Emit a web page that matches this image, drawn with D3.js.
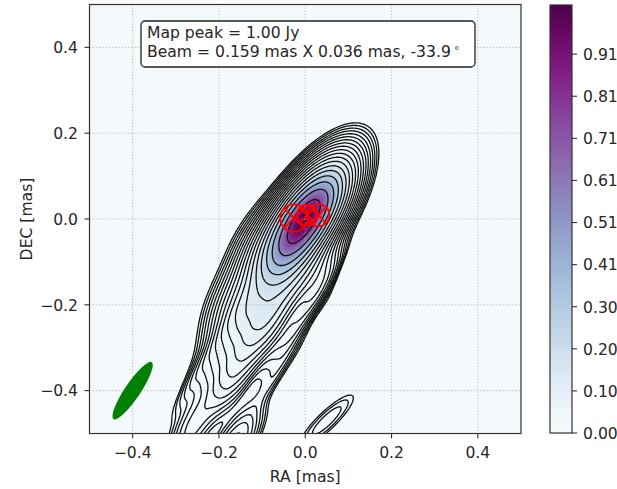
<!DOCTYPE html>
<html>
<head>
<meta charset="utf-8">
<script src="https://cdn.jsdelivr.net/npm/d3@7"></script>
<style>
  body { margin: 0; background: #fff; }
  svg { display: block; }
  text { font-family: "DejaVu Sans", sans-serif; fill: #262626; }
</style>
</head>
<body>
<svg id="chart" width="617" height="489"></svg>
<script>
// axis ticks (mas)
const axisTicks = [-0.4, -0.2, 0.0, 0.2, 0.4];

// colorbar ticks and labels (Jy)
const cbTicks = [0, 0.1015, 0.203, 0.3045, 0.406, 0.5075, 0.609, 0.7105, 0.812, 0.9135];
const cbLabels = ["0.00", "0.10", "0.20", "0.30", "0.41", "0.51", "0.61", "0.71", "0.81", "0.91"];
const cbMax = 1.032;

// contour levels (Jy)
const levels = [0.0015, 0.0021, 0.003, 0.0042, 0.006, 0.0085, 0.012, 0.017, 0.024,
                0.034, 0.048, 0.068, 0.096, 0.136, 0.19, 0.27, 0.38, 0.54, 0.77];

// brightness distribution: image-plane gaussians (x, y in mas, peak in Jy, FWHM in mas, PA in deg)
// core, jet knots, bottom blobs
const srcX   = [0.0,  -0.05, -0.11, -0.17, -0.26, -0.17,  0.05,  0.03];
const srcY   = [0.0,  -0.10, -0.22, -0.34, -0.48, -0.53, -0.47, -0.14];
const srcAmp = [1.0,   0.15,  0.10,  0.03,  0.01,  0.02,  0.004, 0.012];
const srcMaj = [0.17,  0.15,  0.15,  0.15,  0.15,  0.14,  0.14,  0.12];
const srcMin = [0.07,  0.10,  0.10,  0.08,  0.05,  0.05,  0.035, 0.06];
const srcPA  = [34,    27,    27,    27,    27,    32,    46,    20];

// faint stripes across the jet (residual pattern that makes the contours ripple)
const ripX   = [-0.17, -0.125, -0.08, -0.035, 0.01, 0.055,
                -0.25, -0.205, -0.16, -0.115, -0.07];
const ripY   = [-0.23, -0.23, -0.23, -0.23, -0.2, -0.17,
                -0.36, -0.36, -0.36, -0.36, -0.36];
const ripAmp = [0.008, -0.008, 0.008, -0.008, 0.006, -0.004,
                0.004, -0.004, 0.004, -0.004, 0.004];
const ripMaj = 0.16, ripMin = 0.024, ripPA = 30;

// model components (red circles)
const modX = [-0.026, 0.005, 0.030];
const modY = [0.002, 0.009, 0.009];
const modR = [0.032, 0.024, 0.026];

// restoring beam
const beamMaj = 0.159, beamMin = 0.036, beamPA = -33.9;
const beamX = -0.40, beamY = -0.40;
const mapPeak = 1.00;

const svg = d3.select("#chart");
const pL = 89.5, pR = 521, pT = 4.5, pB = 433.5;
const x = d3.scaleLinear().domain([-0.5, 0.5]).range([pL, pR]);
const y = d3.scaleLinear().domain([-0.5, 0.5]).range([pB, pT]);

const k4 = 4 * Math.LN2;
function gauss(px, py, cx, cy, amp, maj, min, pa) {
  const dx = px - cx, dy = py - cy;
  const t = pa * Math.PI / 180;
  const u = dx * Math.sin(t) + dy * Math.cos(t);
  const v = dx * Math.cos(t) - dy * Math.sin(t);
  return amp * Math.exp(-k4 * (u * u / (maj * maj) + v * v / (min * min)));
}
function field(px, py) {
  let s = 0;
  for (let i = 0; i < srcX.length; i++)
    s += gauss(px, py, srcX[i], srcY[i], srcAmp[i], srcMaj[i], srcMin[i], srcPA[i]);
  for (let i = 0; i < ripX.length; i++)
    s += gauss(px, py, ripX[i], ripY[i], ripAmp[i], ripMaj, ripMin, ripPA);
  return s;
}

// image
const W = Math.round(pR - pL), H = Math.round(pB - pT);
const canvas = document.createElement("canvas");
canvas.width = W; canvas.height = H;
const ctx = canvas.getContext("2d");
const img = ctx.createImageData(W, H);
const lut = d3.range(256).map(i => d3.rgb(d3.interpolateBuPu(i / 255)));
for (let j = 0; j < H; j++) {
  const py = y.invert(pT + j + 0.5);
  for (let i = 0; i < W; i++) {
    const px = x.invert(pL + i + 0.5);
    const v = field(px, py) + 0.015;
    const c = lut[Math.max(0, Math.min(255, Math.round(v / cbMax * 255)))];
    const o = (j * W + i) * 4;
    img.data[o] = c.r; img.data[o + 1] = c.g; img.data[o + 2] = c.b; img.data[o + 3] = 255;
  }
}
ctx.putImageData(img, 0, 0);

svg.append("clipPath").attr("id", "plotclip")
  .append("rect").attr("x", pL).attr("y", pT).attr("width", pR - pL).attr("height", pB - pT);

svg.append("image")
  .attr("x", pL).attr("y", pT).attr("width", W).attr("height", H)
  .attr("preserveAspectRatio", "none")
  .attr("href", canvas.toDataURL());

// grid
const grid = svg.append("g").attr("stroke", "#b0b0b0").attr("stroke-width", 0.9).attr("stroke-dasharray", "1.2,2");
grid.selectAll(".gx").data(axisTicks).join("line").attr("class", "gx")
  .attr("x1", d => x(d)).attr("x2", d => x(d)).attr("y1", pT).attr("y2", pB);
grid.selectAll(".gy").data(axisTicks).join("line").attr("class", "gy")
  .attr("y1", d => y(d)).attr("y2", d => y(d)).attr("x1", pL).attr("x2", pR);

// contours
const n = 300, g0 = -0.6, step = 1.2 / n;
const vals = new Float64Array(n * n);
for (let j = 0; j < n; j++) {
  const py = 0.6 - (j + 0.5) * step;
  for (let i = 0; i < n; i++) vals[j * n + i] = field(g0 + (i + 0.5) * step, py);
}
const contours = d3.contours().size([n, n]).thresholds(levels)(vals);
const proj = d3.geoTransform({
  point(cx, cy) { this.stream.point(x(g0 + cx * step), y(0.6 - cy * step)); }
});
svg.append("g").attr("clip-path", "url(#plotclip)")
  .selectAll("path").data(contours).join("path")
  .attr("d", d3.geoPath(proj))
  .attr("fill", "none").attr("stroke", "#111").attr("stroke-width", 1.3);

// model components
const mods = svg.append("g").attr("stroke", "#ff0000").attr("stroke-width", 1.8).attr("fill", "none");
modX.forEach((mx, i) => {
  const cx = x(mx), cy = y(modY[i]), r = x(modR[i]) - x(0);
  mods.append("circle").attr("cx", cx).attr("cy", cy).attr("r", r);
  const a = Math.PI / 4;
  mods.append("line").attr("x1", cx - r * Math.cos(a)).attr("y1", cy - r * Math.sin(a))
    .attr("x2", cx + r * Math.cos(a)).attr("y2", cy + r * Math.sin(a));
  mods.append("line").attr("x1", cx - r * Math.cos(a)).attr("y1", cy + r * Math.sin(a))
    .attr("x2", cx + r * Math.cos(a)).attr("y2", cy - r * Math.sin(a));
});

// beam
svg.append("ellipse")
  .attr("cx", 0).attr("cy", 0)
  .attr("rx", (x(beamMin) - x(0)) / 2).attr("ry", (x(beamMaj) - x(0)) / 2)
  .attr("transform", `translate(${x(beamX)},${y(beamY)}) rotate(${-beamPA})`)
  .attr("fill", "#008000");

// info box
const box = svg.append("g");
box.append("rect").attr("x", 141).attr("y", 21).attr("width", 334).attr("height", 46)
  .attr("rx", 4).attr("fill", "#fff").attr("stroke", "#222").attr("stroke-width", 1.3);
box.append("text").attr("x", 147).attr("y", 37.7).attr("font-size", 15.6)
  .text(`Map peak = ${mapPeak.toFixed(2)} Jy`);
const t2 = box.append("text").attr("x", 147).attr("y", 56.7).attr("font-size", 15.6)
  .text(`Beam = ${beamMaj.toFixed(3)} mas X ${beamMin.toFixed(3)} mas, ${beamPA.toFixed(1)}`);
t2.append("tspan").attr("dx", 3).attr("dy", -6).attr("font-size", 10).text("∘");

// frame and axes
svg.append("rect").attr("x", pL).attr("y", pT).attr("width", pR - pL).attr("height", pB - pT)
  .attr("fill", "none").attr("stroke", "#333").attr("stroke-width", 1.2);

const fmt = d => (d < 0 ? "\u2212" : "") + Math.abs(d).toFixed(1);
const ax = svg.append("g").attr("font-size", 15.6);
axisTicks.forEach(t => {
  ax.append("line").attr("x1", x(t)).attr("x2", x(t)).attr("y1", pB).attr("y2", pB + 5)
    .attr("stroke", "#333").attr("stroke-width", 1.1);
  ax.append("text").attr("x", x(t)).attr("y", 457.7).attr("text-anchor", "middle").text(fmt(t));
  ax.append("line").attr("x1", pL - 5).attr("x2", pL).attr("y1", y(t)).attr("y2", y(t))
    .attr("stroke", "#333").attr("stroke-width", 1.1);
  ax.append("text").attr("x", 78).attr("y", y(t) + 5.8).attr("text-anchor", "end").text(fmt(t));
});
ax.append("text").attr("x", (pL + pR) / 2).attr("y", 481.5).attr("text-anchor", "middle").text("RA [mas]");
ax.append("text").attr("transform", `translate(32,${(pT + pB) / 2}) rotate(-90)`)
  .attr("text-anchor", "middle").text("DEC [mas]");

// colorbar
const cbLeft = 550, cbW = 22, cbTop = 5, cbBot = 433;
const cby = d3.scaleLinear().domain([0, cbMax]).range([cbBot, cbTop]);
const grad = svg.append("defs").append("linearGradient").attr("id", "cbgrad")
  .attr("x1", 0).attr("y1", 1).attr("x2", 0).attr("y2", 0);
d3.range(0, 1.0001, 0.05).forEach(s => grad.append("stop").attr("offset", s).attr("stop-color", d3.interpolateBuPu(s)));
svg.append("rect").attr("x", cbLeft).attr("y", cbTop).attr("width", cbW).attr("height", cbBot - cbTop)
  .attr("fill", "url(#cbgrad)").attr("stroke", "#333").attr("stroke-width", 1.2);
const cb = svg.append("g").attr("font-size", 15.6);
cbTicks.forEach((t, i) => {
  cb.append("line").attr("x1", cbLeft + cbW).attr("x2", cbLeft + cbW + 5).attr("y1", cby(t)).attr("y2", cby(t))
    .attr("stroke", "#333").attr("stroke-width", 1.1);
  cb.append("text").attr("x", 583).attr("y", cby(t) + 5.8).text(cbLabels[i]);
});
</script>
</body>
</html>
